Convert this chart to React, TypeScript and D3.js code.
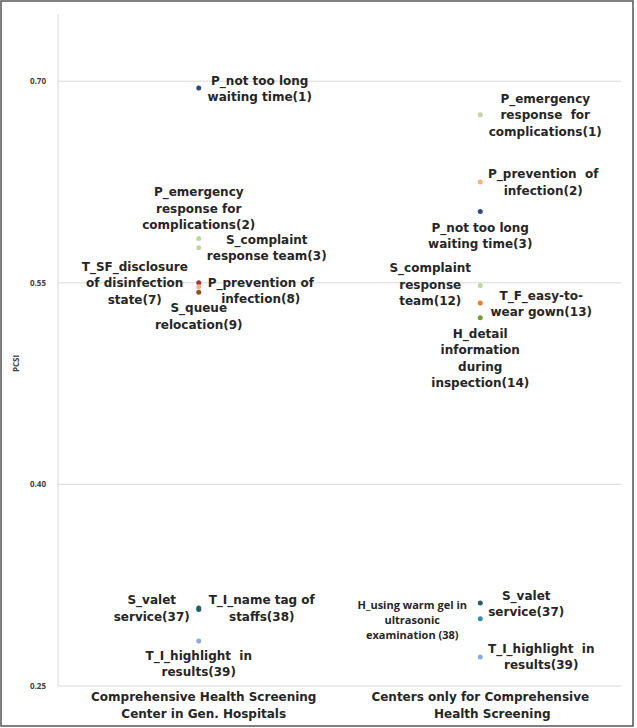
import React, { useEffect, useRef } from 'react';
import * as d3 from 'd3';

// category axis
const categories = ['general', 'dedicated'];
const categoryLines = [
  ['Comprehensive Health Screening', 'Center in Gen. Hospitals'],
  ['Centers only for Comprehensive', 'Health Screening'],
];
const yTicks = [0.25, 0.4, 0.55, 0.7];

// PCSI values per center type
const generalItems = [
  { item: 'P_not too long waiting time', rank: 1, value: 0.695, lines: ['P_not too long', 'waiting time(1)'] },
  { item: 'P_emergency response for complications', rank: 2, value: 0.583, lines: ['P_emergency', 'response for', 'complications(2)'] },
  { item: 'S_complaint response team', rank: 3, value: 0.576, lines: ['S_complaint', 'response team(3)'] },
  { item: 'T_SF_disclosure of disinfection state', rank: 7, value: 0.55, lines: ['T_SF_disclosure', 'of disinfection', 'state(7)'] },
  { item: 'P_prevention of infection', rank: 8, value: 0.547, lines: ['P_prevention of', 'infection(8)'] },
  { item: 'S_queue relocation', rank: 9, value: 0.543, lines: ['S_queue', 'relocation(9)'] },
  { item: 'S_valet service', rank: 37, value: 0.308, lines: ['S_valet', 'service(37)'] },
  { item: 'T_I_name tag of staffs', rank: 38, value: 0.307, lines: ['T_I_name tag of', 'staffs(38)'] },
  { item: 'T_I_highlight in results', rank: 39, value: 0.2835, lines: ['T_I_highlight  in', 'results(39)'] },
];

const dedicatedItems = [
  { item: 'P_emergency response for complications', rank: 1, value: 0.675, lines: ['P_emergency', 'response  for', 'complications(1)'] },
  { item: 'P_prevention of infection', rank: 2, value: 0.625, lines: ['P_prevention  of', 'infection(2)'] },
  { item: 'P_not too long waiting time', rank: 3, value: 0.603, lines: ['P_not too long', 'waiting time(3)'] },
  { item: 'S_complaint response team', rank: 12, value: 0.548, lines: ['S_complaint', 'response', 'team(12)'] },
  { item: 'T_F_easy-to-wear gown', rank: 13, value: 0.535, lines: ['T_F_easy-to-', 'wear gown(13)'] },
  { item: 'H_detail information during inspection', rank: 14, value: 0.524, lines: ['H_detail', 'information', 'during', 'inspection(14)'] },
  { item: 'S_valet service', rank: 37, value: 0.3118, lines: ['S_valet', 'service(37)'] },
  { item: 'H_using warm gel in ultrasonic examination', rank: 38, value: 0.3, lines: ['H_using warm gel in', 'ultrasonic', 'examination (38)'] },
  { item: 'T_I_highlight in results', rank: 39, value: 0.2716, lines: ['T_I_highlight  in', 'results(39)'] },
];

// marker colour per item
const itemColors: Record<string, string> = {
  'P_not too long waiting time': '#2e4a7d',
  'P_emergency response for complications': '#c5d5a0',
  'S_complaint response team': '#c5d5a0',
  'T_SF_disclosure of disinfection state': '#9e3a38',
  'P_prevention of infection': '#f4b183',
  'S_queue relocation': '#9c4f24',
  'S_valet service': '#255e6e',
  'T_I_name tag of staffs': '#255e6e',
  'T_I_highlight in results': '#8eaadb',
  'T_F_easy-to-wear gown': '#ed7d31',
  'H_detail information during inspection': '#6f9a3a',
  'H_using warm gel in ultrasonic examination': '#3090b0',
};

// label placement relative to the marker: [dx, dy of first baseline]
const labelOffsets: Record<string, [number, number]> = {
  'general-1': [61, -3],
  'general-2': [0, -42],
  'general-3': [68, -4],
  'general-7': [-64, -12],
  'general-8': [62, 0],
  'general-9': [0, 20],
  'general-37': [-47, -4],
  'general-38': [63, -5],
  'general-39': [0, 19],
  'dedicated-1': [65, -12],
  'dedicated-2': [63, -4],
  'dedicated-3': [0, 20],
  'dedicated-12': [-50, -13],
  'dedicated-13': [61, -3],
  'dedicated-14': [0, 20],
  'dedicated-37': [46, -3],
  'dedicated-38': [-68, -10],
  'dedicated-39': [61, -4],
};

const W = 637;
const H = 728;

const App: React.FC = () => {
  const svgRef = useRef<SVGSVGElement>(null);

  useEffect(() => {
    if (!svgRef.current) return;
    const svg = d3.select(svgRef.current);
    svg.selectAll('*').remove();

    const margin = { top: 14, right: 16, bottom: 42, left: 58 };
    const font = "'DejaVu Sans', Verdana, sans-serif";
    const smallFont = "'Open Sans', sans-serif";

    svg.append('rect')
      .attr('x', 1).attr('y', 1).attr('width', W - 5).attr('height', H - 3)
      .attr('fill', '#fff').attr('stroke', '#555').attr('stroke-width', 1.5);

    const x = d3.scaleBand()
      .domain(categories)
      .range([margin.left, W - margin.right]);

    const y = d3.scaleLinear()
      .domain([0.25, 0.75])
      .range([H - margin.bottom, margin.top]);

    // gridlines
    svg.append('g')
      .selectAll('line')
      .data(yTicks)
      .enter()
      .append('line')
      .attr('x1', margin.left)
      .attr('x2', W - margin.right)
      .attr('y1', d => y(d))
      .attr('y2', d => y(d))
      .attr('stroke', '#d9d9d9')
      .attr('stroke-width', 1);

    svg.append('line')
      .attr('x1', margin.left).attr('x2', margin.left)
      .attr('y1', margin.top).attr('y2', H - margin.bottom)
      .attr('stroke', '#d9d9d9');

    // y tick labels
    svg.append('g')
      .selectAll('text')
      .data(yTicks)
      .enter()
      .append('text')
      .attr('x', 46)
      .attr('y', d => y(d) + 3)
      .attr('text-anchor', 'end')
      .attr('font-family', smallFont)
      .attr('font-size', '8px')
      .attr('font-weight', 'bold')
      .attr('fill', '#404040')
      .text(d => d.toFixed(2));

    svg.append('text')
      .attr('transform', `translate(19,${y(0.49)}) rotate(-90)`)
      .attr('text-anchor', 'middle')
      .attr('font-family', smallFont)
      .attr('font-size', '8px')
      .attr('font-weight', 'bold')
      .attr('fill', '#404040')
      .text('PCSI');

    // category labels
    categories.forEach((c, i) => {
      const cx = (x(c) || 0) + x.bandwidth() / 2;
      const t = svg.append('text')
        .attr('text-anchor', 'middle')
        .attr('font-family', font)
        .attr('font-size', '12px')
        .attr('font-weight', 'bold')
        .attr('fill', '#262626');
      categoryLines[i].forEach((line, j) => {
        t.append('tspan')
          .attr('x', cx + (i === 0 ? 5 : (j === 1 ? 12 : 0)))
          .attr('y', H - margin.bottom + 15 + j * 16.5)
          .text(line);
      });
    });

    const groups = [
      { cat: 'general', items: generalItems },
      { cat: 'dedicated', items: dedicatedItems },
    ];

    groups.forEach(({ cat, items }) => {
      const cx = (x(cat) || 0) + x.bandwidth() / 2;

      svg.append('g')
        .selectAll('circle')
        .data(items)
        .enter()
        .append('circle')
        .attr('cx', cx)
        .attr('cy', d => y(d.value))
        .attr('r', 2.5)
        .attr('fill', d => itemColors[d.item]);

      items.forEach(d => {
        const [dx, dy] = labelOffsets[`${cat}-${d.rank}`];
        const small = d.rank === 38 && cat === 'dedicated';
        const lh = small ? 15 : 16.5;
        const t = svg.append('text')
          .attr('text-anchor', 'middle')
          .attr('font-family', small ? smallFont : font)
          .attr('font-size', small ? '11px' : '12px')
          .attr('font-weight', 'bold')
          .attr('fill', '#262626')
          .style('white-space', 'pre');
        d.lines.forEach((line, j) => {
          t.append('tspan')
            .attr('x', cx + dx)
            .attr('y', y(d.value) + dy + j * lh)
            .text(line);
        });
      });
    });
  }, []);

  return (
    <div style={{ position: 'absolute', left: 0, top: 0 }}>
      <svg ref={svgRef} width={W} height={H} style={{ display: 'block' }} />
    </div>
  );
};

export default App;
